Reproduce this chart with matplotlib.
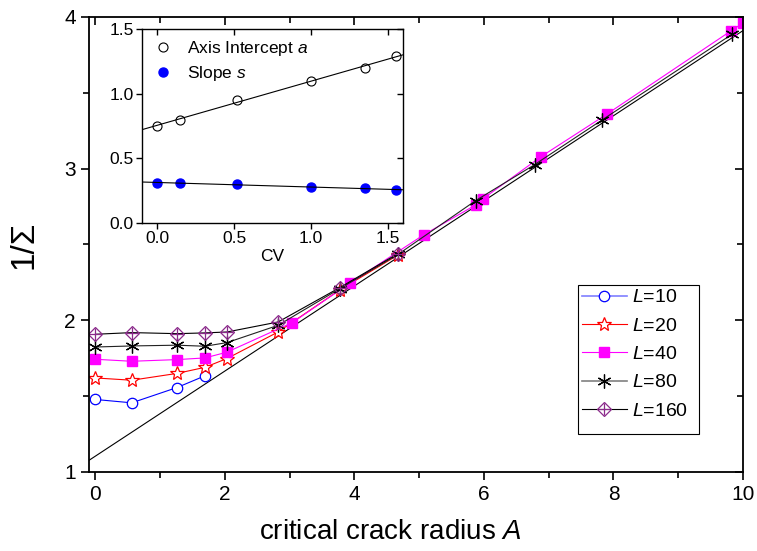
import numpy as np
import matplotlib
matplotlib.use("Agg")
import matplotlib.pyplot as plt
from matplotlib.patches import Rectangle

plt.rcParams['font.family'] = ['Liberation Sans', 'DejaVu Sans']
plt.rcParams['mathtext.fontset'] = 'custom'
plt.rcParams['mathtext.rm'] = 'Liberation Sans'
plt.rcParams['mathtext.it'] = 'Liberation Sans:italic'

# main panel data: 1/Sigma vs critical crack radius A
A10 = [0, 0.56, 1.26, 1.69]
v10 = [1.478, 1.456, 1.557, 1.634]
A20 = [0, 0.56, 1.26, 1.69, 2.03, 2.82, 3.77, 4.67]
v20 = [1.62, 1.605, 1.65, 1.69, 1.748, 1.923, 2.20, 2.43]
A40 = [0, 0.56, 1.26, 1.69, 2.03, 3.04, 3.93, 5.07, 5.88, 5.98, 6.88, 7.90, 9.82, 10.0]
v40 = [1.743, 1.730, 1.741, 1.752, 1.79, 1.985, 2.245, 2.564, 2.763, 2.80, 3.079, 3.36, 3.91, 3.96]
A80 = [0, 0.56, 1.26, 1.69, 2.03, 2.82, 3.77, 4.67, 5.87, 6.78, 7.82, 9.83]
v80 = [1.824, 1.831, 1.836, 1.829, 1.853, 1.967, 2.208, 2.434, 2.789, 3.026, 3.32, 3.886]
A160 = [0, 0.56, 1.26, 1.69, 2.03, 2.82, 3.77, 4.67]
v160 = [1.908, 1.919, 1.912, 1.917, 1.923, 1.989, 2.215, 2.44]

# asymptotic straight line
ref_A = [-0.1, 10.0]
ref_v = [1.077, 3.91]

# inset data
cv = [0, 0.147, 0.521, 1.0, 1.352, 1.554]
intercept_a = [0.75, 0.80, 0.952, 1.10, 1.198, 1.293]
slope_s = [0.306, 0.31, 0.303, 0.279, 0.267, 0.254]

fig = plt.figure(figsize=(7.57, 5.51), dpi=100)
ax = fig.add_axes([0.1176, 0.1434, 0.8639, 0.8258])

ax.plot(ref_A, ref_v, color='black', lw=0.8, zorder=1)
l10, = ax.plot(A10, v10, color='blue', lw=0.8, marker='o', ms=7.5,
               mfc='white', mec='blue', mew=0.9)
l20, = ax.plot(A20, v20, color='red', lw=0.8, marker='*', ms=10,
               mfc='white', mec='red', mew=0.9)
l40, = ax.plot(A40, v40, color='magenta', lw=0.8, marker='s', ms=6.5,
               mfc='magenta', mec='magenta')
l80, = ax.plot(A80, v80, color='#222222', lw=0.8, marker=(6, 2, 0), ms=10,
               mec='black', mew=0.9)
l160, = ax.plot(A160, v160, color='black', lw=0.8, marker='D', ms=7,
                mfc='none', mec='#8b2a8b', mew=0.9)
p160, = ax.plot(A160, v160, ls='none', marker='+', ms=8, mec='#8b2a8b', mew=0.9)

ax.set_xlim(-0.1, 10)
ax.set_ylim(1, 4)
ax.set_xticks([0, 2, 4, 6, 8, 10])
ax.set_xticks([1, 3, 5, 7, 9], minor=True)
ax.set_yticks([1, 2, 3, 4])
ax.set_yticks([1.5, 2.5, 3.5], minor=True)
ax.tick_params(which='both', direction='out', labelsize=15, width=1.2,
               top=True, right=True)
ax.tick_params(which='major', length=6)
ax.tick_params(which='minor', length=4)
for s in ax.spines.values():
    s.set_linewidth(1.3)
# mirrored ticks point inward
for t in ax.xaxis.get_major_ticks() + ax.xaxis.get_minor_ticks():
    t.tick2line.set_marker(3)
for t in ax.yaxis.get_major_ticks() + ax.yaxis.get_minor_ticks():
    t.tick2line.set_marker(0)
ax.set_xlabel('critical crack radius $A$', fontsize=20, labelpad=11)
ax.xaxis.label.set_x(0.46)
ax.set_ylabel('1/Σ', fontsize=24, labelpad=18)

h10, = ax.plot([], [], color='#7f7fff', lw=1.2, marker='o', ms=7.5,
               mfc='white', mec='blue', mew=0.9)
h80, = ax.plot([], [], color='gray', lw=1.2, marker=(6, 2, 0), ms=10,
               mec='black', mew=0.9)
# legend box (Origin style, with empty space below the entries)
ax.add_patch(Rectangle((0.7477, 0.0835), 0.185, 0.3275, transform=ax.transAxes,
                       facecolor='white', edgecolor='black', lw=0.8, zorder=4))
leg = ax.legend([h10, l20, l40, h80, (l160, p160)],
                ['$L$=10', '$L$=20', '$L$=40', '$L$=80', '$L$=160'],
                loc='upper left', bbox_to_anchor=(0.7477, 0.411), fontsize=14,
                frameon=False, handlelength=2.3, handletextpad=0.3,
                labelspacing=0.55, borderpad=0.2, borderaxespad=0)
leg.set_zorder(5)

# inset
ins = fig.add_axes([0.1876, 0.5953, 0.3448, 0.352])
ins.plot(cv, intercept_a, ls='none', marker='o', ms=6.5, mfc='white',
         mec='black', mew=0.8, label='Axis Intercept $a$')
ins.plot(cv, slope_s, ls='none', marker='o', ms=6.5, mfc='blue',
         mec='blue', label='Slope $s$')
xf = np.array([-0.1, 1.6])
ca = np.polyfit(cv, intercept_a, 1)
cs = np.polyfit(cv, slope_s, 1)
ins.plot(xf, np.polyval(ca, xf), color='black', lw=0.8)
ins.plot(xf, np.polyval(cs, xf), color='black', lw=0.8)
ins.set_xlim(-0.1, 1.6)
ins.set_ylim(0, 1.5)
ins.set_xticks([0, 0.5, 1.0, 1.5])
ins.set_yticks([0, 0.5, 1.0, 1.5])
ins.set_xticklabels(['0.0', '0.5', '1.0', '1.5'])
ins.set_yticklabels(['0.0', '0.5', '1.0', '1.5'])
ins.tick_params(direction='out', labelsize=12.5, width=1.0, length=4,
                top=True, right=True, pad=2)
for t in ins.xaxis.get_major_ticks():
    t.tick2line.set_marker(3)
for t in ins.yaxis.get_major_ticks():
    t.tick2line.set_marker(0)
for s in ins.spines.values():
    s.set_linewidth(1.0)
ins.set_xlabel('CV', fontsize=12.5, labelpad=2)
ins.legend(loc='upper left', fontsize=12.5, frameon=False, handlelength=1.2,
           handletextpad=0.8, labelspacing=0.3, borderaxespad=0.2)

fig.savefig('out.png', dpi=100)
